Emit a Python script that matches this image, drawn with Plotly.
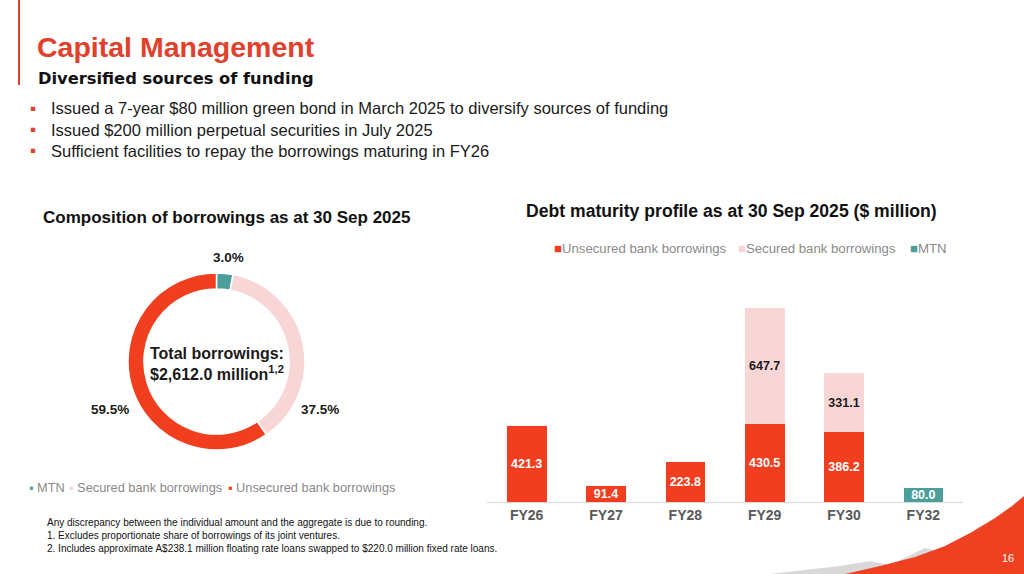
import plotly.graph_objects as go

# --- data ---
categories = ["FY26", "FY27", "FY28", "FY29", "FY30", "FY32"]
unsecured = [421.3, 91.4, 223.8, 430.5, 386.2, None]
secured = [None, None, None, 647.7, 331.1, None]
mtn = [None, None, None, None, None, 80.0]

pie_labels = ["MTN", "Secured bank borrowings", "Unsecured bank borrowings"]
pie_shares = [3.0, 37.5, 59.5]

bullets = [
    "Issued a 7-year $80 million green bond in March 2025 to diversify sources of funding",
    "Issued $200 million perpetual securities in July 2025",
    "Sufficient facilities to repay the borrowings maturing in FY26",
]
footnotes = [
    "Any discrepancy between the individual amount and the aggregate is due to rounding.",
    "1. Excludes proportionate share of borrowings of its joint ventures.",
    "2. Includes approximate A$238.1 million floating rate loans swapped to $220.0 million fixed rate loans.",
]

W, H = 1024, 574
RED = "#f03e1f"
PINK = "#f9d6d6"
TEAL = "#4b9e9a"
FONT = "Liberation Sans, Arial, sans-serif"


def px(x):
    return x / W


def py(y):
    return 1 - y / H


fig = go.Figure()

# donut
fig.add_trace(go.Pie(
    labels=pie_labels, values=pie_shares, hole=0.82, sort=False,
    direction="clockwise", rotation=0, textinfo="none",
    marker=dict(colors=[TEAL, PINK, RED], line=dict(color="white", width=1.5)),
    domain=dict(x=[px(128), px(305)], y=[py(450), py(273)]),
    showlegend=False, hoverinfo="label+percent",
))

# stacked bars (only the categories that have a value)
for name, vals, col, tcol in [
    ("Unsecured bank borrowings", unsecured, RED, "white"),
    ("Secured bank borrowings", secured, PINK, "#1a1a1a"),
    ("MTN", mtn, TEAL, "white"),
]:
    xs = [c for c, v in zip(categories, vals) if v is not None]
    ys = [v for v in vals if v is not None]
    fig.add_trace(go.Bar(
        x=xs, y=ys, name=name, marker=dict(color=col, line=dict(width=0)),
        texttemplate="%{y:.1f}",
        textposition="inside", insidetextanchor="middle", textangle=0,
        constraintext="none",
        textfont=dict(family=FONT, size=12.5, color=tcol, weight="bold"),
        showlegend=False,
    ))

ann = []
# title block
ann.append(dict(x=px(35), y=py(47), text="<b>Capital Management</b>",
                font=dict(size=28.5, color="#e0402c"), xanchor="left"))
ann.append(dict(x=px(36), y=py(78), text="<b>Diversified sources of funding</b>",
                font=dict(size=16.3, color="#111111", family="DejaVu Sans"), xanchor="left"))
for i, b in enumerate(bullets):
    yy = 108 + i * 21.5
    ann.append(dict(x=px(28), y=py(yy), text="▪", font=dict(size=17, color="#e0402c"),
                    xanchor="left"))
    ann.append(dict(x=px(49), y=py(yy), text=b, font=dict(size=16.5, color="#1a1a1a"),
                    xanchor="left"))

# chart titles
ann.append(dict(x=px(226), y=py(217), text="<b>Composition of borrowings as at 30 Sep 2025</b>",
                font=dict(size=17, color="#111111"), xanchor="center"))
ann.append(dict(x=px(731), y=py(211),
                text="<b>Debt maturity profile as at 30 Sep 2025 ($ million)</b>",
                font=dict(size=17.6, color="#111111"), xanchor="center"))

# donut labels
pie_label_pos = [(228, 257), (320, 409), (110, 409)]
for share, (lx, ly) in zip(pie_shares, pie_label_pos):
    ann.append(dict(x=px(lx), y=py(ly), text=f"<b>{share:.1f}%</b>",
                    font=dict(size=13.5, color="#1a1a1a"), xanchor="center"))
ann.append(dict(x=px(217), y=py(364),
                text="<b>Total borrowings:<br>$2,612.0 million<sup>1,2</sup></b>",
                font=dict(size=16, color="#1a1a1a"), xanchor="center"))

# donut legend
pie_cols = [TEAL, PINK, RED]
pie_leg_x = [27, 67, 226]
for c, l, lx in zip(pie_cols, pie_labels, pie_leg_x):
    ann.append(dict(x=px(lx), y=py(487), text=f"<span style='color:{c}'>▪</span> {l}",
                    font=dict(size=12.8, color="#8a8a8a"), xanchor="left"))

# bar legend
bar_leg = [("Unsecured bank borrowings", RED, 552), ("Secured bank borrowings", PINK, 736),
           ("MTN", TEAL, 908)]
for l, c, lx in bar_leg:
    ann.append(dict(x=px(lx), y=py(248), text=f"<span style='color:{c}'>■</span>{l}",
                    font=dict(size=13.2, color="#8a8a8a"), xanchor="left"))

# footnotes
for i, f in enumerate(footnotes):
    ann.append(dict(x=px(45), y=py(522 + i * 13), text=f, font=dict(size=10, color="#111111"),
                    xanchor="left"))

ann.append(dict(x=px(1008), y=py(558), text="16", font=dict(size=11, color="white"),
                xanchor="center"))

for a in ann:
    a.update(xref="paper", yref="paper", showarrow=False, yanchor="middle")


def path(points):
    s = "M " + " L ".join(f"{px(x):.4f},{py(y):.4f}" for x, y in points)
    return s + " Z"


shapes = [
    # red vertical accent
    dict(type="line", xref="paper", yref="paper", x0=px(19), x1=px(19), y0=py(0), y1=py(85),
         line=dict(color="#e0402c", width=2)),
    # grey hills
    dict(type="path", xref="paper", yref="paper", line=dict(width=0),
         fillcolor="rgba(190,190,190,0.6)",
         path=path([(770, 574), (840, 566), (870, 561), (890, 565), (925, 548), (945, 553),
                    (980, 526), (996, 540), (1024, 505), (1024, 574)])),
    # red swoosh
    dict(type="path", xref="paper", yref="paper", line=dict(width=0), fillcolor="#ee4122",
         path=path([(845, 574), (880, 566), (915, 557), (945, 546), (972, 532), (995, 518),
                    (1012, 506), (1024, 496), (1024, 574)])),
]

fig.update_layout(
    width=W, height=H, autosize=False,
    margin=dict(l=0, r=0, t=0, b=0),
    paper_bgcolor="white", plot_bgcolor="white",
    font=dict(family=FONT),
    barmode="stack", bargap=0.5,
    xaxis=dict(domain=[px(487), px(963)], showgrid=False, zeroline=False,
               categoryorder="array", categoryarray=categories,
               showline=True, linecolor="#d9d9d9", linewidth=1, ticks="",
               tickfont=dict(size=14, color="#595959", weight="bold"), fixedrange=True),
    yaxis=dict(domain=[py(502), py(280)], range=[0, 1233], visible=False, fixedrange=True),
    annotations=ann, shapes=shapes,
)

fig.write_html("out.html", config={"displayModeBar": False},
               post_script="document.body.style.margin='0';")
